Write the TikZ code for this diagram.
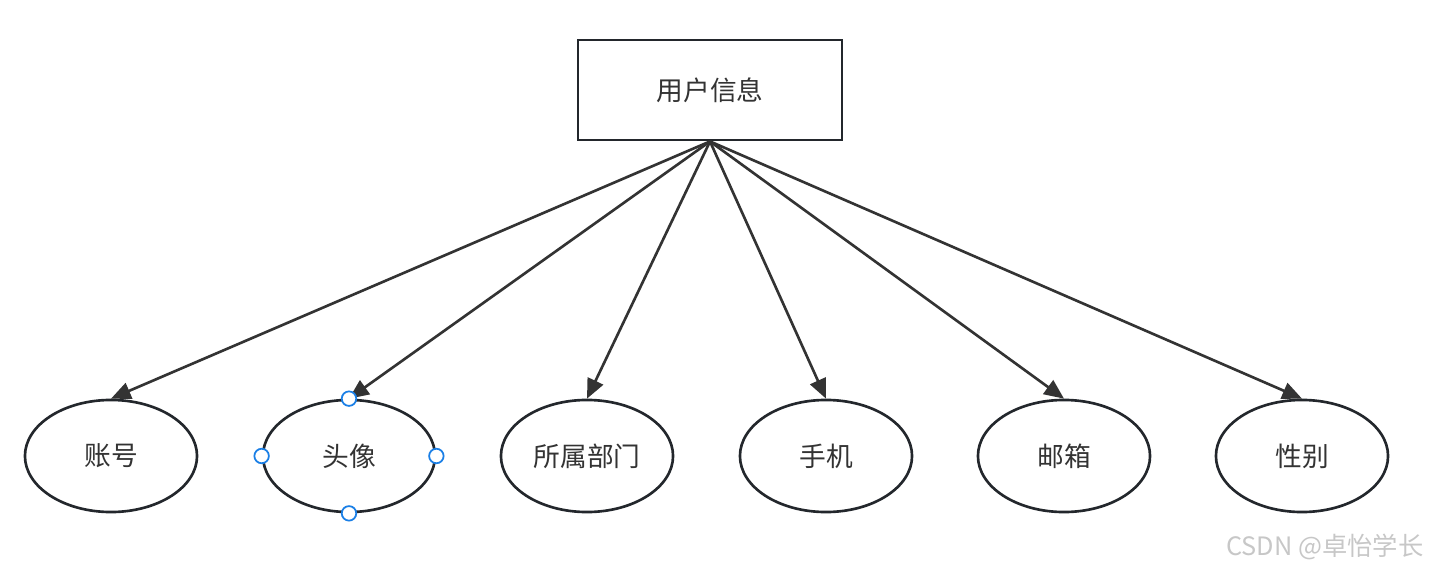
\documentclass[tikz,border=0pt]{standalone}
\usepackage{fontspec}
\setmainfont{Noto Sans CJK SC}
\usetikzlibrary{shapes.geometric,arrows.meta}
\definecolor{linegray}{HTML}{333333}
\definecolor{edgegray}{HTML}{23272C}
\definecolor{handleblue}{HTML}{1A7FE6}
\tikzset{
  entity/.style={draw=edgegray,line width=0.8pt,fill=white,minimum width=2.64cm,minimum height=1cm,inner sep=0pt,font=\fontsize{7.6}{9}\selectfont,text=linegray},
  attr/.style={ellipse,draw=edgegray,line width=0.75pt,fill=white,minimum width=1.72cm,minimum height=1.12cm,inner sep=0pt,font=\fontsize{7.6}{9}\selectfont,text=linegray},
  link/.style={draw=linegray,line width=0.75pt,-{Triangle[length=5.6pt,width=4.8pt]}},
  handle/.style={circle,draw=handleblue,line width=0.5pt,fill=white,minimum size=0.145cm,inner sep=0pt}
}
\begin{document}
\begin{tikzpicture}[x=0.01cm,y=-0.01cm]
\useasboundingbox (0,0) rectangle (1439,573);

\node[entity] (user) at (710,90) {用户信息};

\node[attr] (acct) at (111,456) {账号};
\node[attr] (avatar) at (349,456) {头像};
\node[attr] (dept) at (587,456) {所属部门};
\node[attr] (phone) at (826,456) {手机};
\node[attr] (mail) at (1064,456) {邮箱};
\node[attr] (sex) at (1302,456) {性别};

\foreach \a in {acct,avatar,dept,phone,mail,sex}
  \draw[link] (user.south) -- (\a.north);

% selection handles
\node[handle] (hn) at (avatar.north) {};
\node[handle] (hs) at (avatar.south) {};
\node[handle] (hw) at (avatar.west) {};
\node[handle] (he) at (avatar.east) {};

\node[text=black!22,font=\fontsize{7.2}{8}\selectfont,anchor=east] (mark) at (1436,547) {CSDN @卓怡学长};
\end{tikzpicture}
\end{document}
